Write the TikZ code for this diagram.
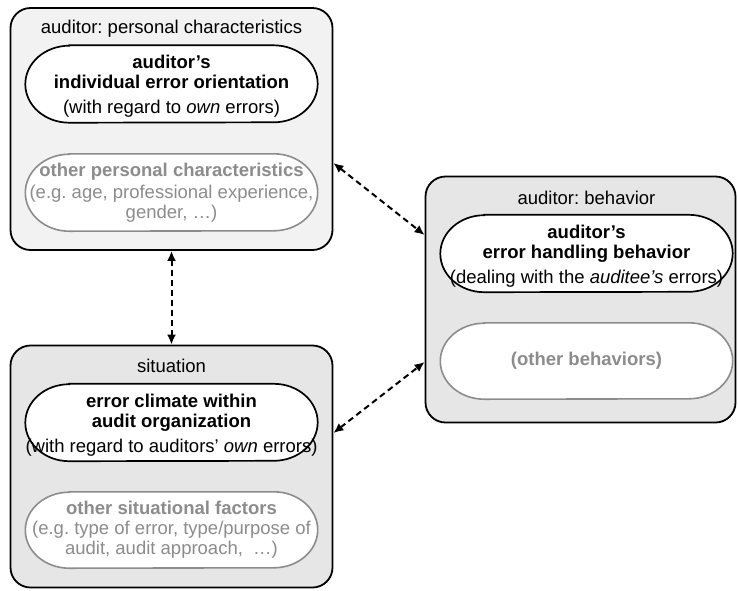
\documentclass[tikz,border=0pt]{standalone}
\usepackage{fontspec}
\setmainfont{Liberation Sans}
\frenchspacing
\usetikzlibrary{arrows.meta}
\definecolor{boxA}{HTML}{F2F2F2}
\definecolor{boxB}{HTML}{E6E6E6}
\definecolor{dim}{HTML}{8C8C8C}
% draw an elongated pill with elliptical ends around a named node
\newcommand\pillaround[3]{% #1 node, #2 half height, #3 draw options
  \draw[#3] ([xshift=44pt]#1.north west) -- ([xshift=-44pt]#1.north east)
    arc[start angle=90,end angle=-90,x radius=44pt,y radius=#2]
    -- ([xshift=44pt]#1.south west)
    arc[start angle=270,end angle=90,x radius=44pt,y radius=#2] -- cycle;}
\begin{document}
\begin{tikzpicture}[x=1pt,y=-1pt,
  group/.style={draw=black, line width=1.8pt, rounded corners=20pt, minimum width=322pt, minimum height=242pt, inner sep=0pt},
  grouptitle/.style={font=\fontsize{18.5}{21}\selectfont, inner sep=0pt},
  pill/.style={minimum width=292pt, minimum height=77pt, inner sep=0pt},
  pillline/.style={draw=black, fill=white, line width=1.7pt},
  dimline/.style={draw=dim, fill=white, line width=1.6pt},
  pilltext/.style={inner sep=0pt, align=center, font=\fontsize{18.5}{20}\selectfont},
  dimtext/.style={pilltext, text=dim},
  link/.style={dash pattern=on 6pt off 4pt, line width=2pt, {Latex[length=10pt,width=9pt]}-{Latex[length=10pt,width=9pt]}}
]
\useasboundingbox (0,0) rectangle (738,590);
% groups
\node[group, fill=boxA] (b1) at (171.5,129) {};
\node[group, fill=boxB] (b2) at (171.5,466.5) {};
\node[group, fill=boxB, minimum width=310pt, minimum height=246pt] (b3) at (580.5,299.5) {};
% titles
\node[grouptitle] (t1) at (171.5,29) {auditor: personal characteristics};
\node[grouptitle] (t2) at (171.5,366) {situation};
\node[grouptitle] (t3) at (586.5,198) {auditor: behavior};
% pills (placement frames)
\node[pill] (p1) at (171.5,84) {};
\node[pill] (p2) at (171.5,192.5) {};
\node[pill] (p3) at (171.5,422.5) {};
\node[pill, minimum height=76pt] (p4) at (171.5,530) {};
\node[pill] (p5) at (586.5,253.5) {};
\node[pill, minimum height=76pt] (p6) at (586.5,361) {};
\pillaround{p1}{38.5pt}{pillline}
\pillaround{p2}{38.5pt}{dimline}
\pillaround{p3}{38.5pt}{pillline}
\pillaround{p4}{38pt}{dimline}
\pillaround{p5}{38.5pt}{pillline}
\pillaround{p6}{38pt}{dimline}
% pill texts
\node[pilltext] (p1t) at ([yshift=-2.5pt]p1.center) {\textbf{auditor’s}\\\textbf{individual error orientation}\\[5pt](with regard to \textit{own} errors)};
\node[dimtext] (p2t) at (p2.center) {\textbf{other personal characteristics}\\[2pt](e.g. age, professional experience,\\gender, …)};
\node[pilltext] (p3t) at ([yshift=-2.5pt]p3.center) {\textbf{error climate within}\\\textbf{audit organization}\\[5pt](with regard to auditors’ \textit{own} errors)};
\node[dimtext] (p4t) at (p4.center) {\textbf{other situational factors}\\(e.g. type of error, type/purpose of\\audit, audit approach,\ \ …)};
\node[pilltext] (p5t) at ([yshift=-2.5pt]p5.center) {\textbf{auditor’s}\\\textbf{error handling behavior}\\[5pt](dealing with the \textit{auditee’s} errors)};
\node[dimtext] (p6t) at (p6.center) {\textbf{(other behaviors)}};
% links
\draw[link] ([yshift=-34pt]b1.east) -- ([yshift=64.5pt]b3.west);
\draw[link] (b1.south) -- (b2.north);
\draw[link] ([yshift=33.5pt]b2.east) -- ([yshift=-62.5pt]b3.west);
\end{tikzpicture}
\end{document}
